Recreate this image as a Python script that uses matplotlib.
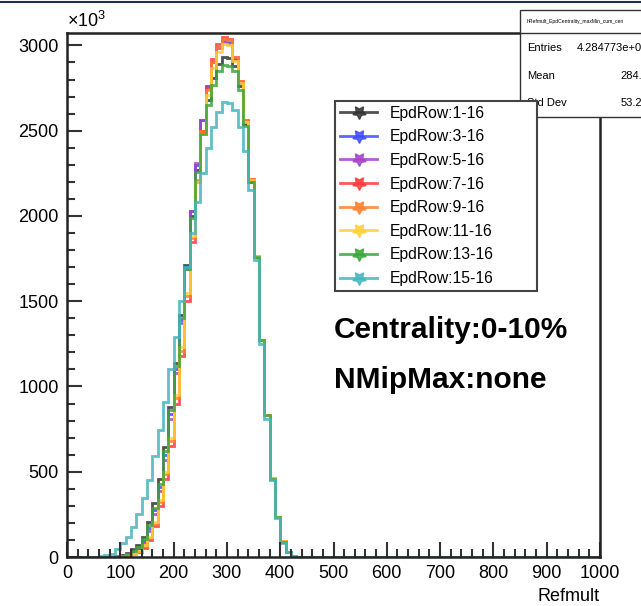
import numpy as np
import matplotlib
matplotlib.use("Agg")
import matplotlib.pyplot as plt
from matplotlib.lines import Line2D
from matplotlib.patches import Rectangle
from matplotlib.ticker import MultipleLocator

plt.rcParams['font.family'] = ['Liberation Sans', 'DejaVu Sans']
plt.rcParams['mathtext.fontset'] = 'custom'
plt.rcParams['mathtext.rm'] = 'Liberation Sans'
plt.rcParams['mathtext.default'] = 'regular'

# Refmult histograms, 10-wide bins, counts in units of 10^3
# values below are for bins with lower edge 50, 60, ..., 430 (all other bins empty)
first_bin = 50
bin_width = 10
row_1_16 = [0, 0, 1, 2, 5, 12, 25, 45, 70, 120,
            205, 315, 455, 645, 880, 1140, 1420, 1710, 2000, 2270,
            2500, 2680, 2810, 2890, 2935, 2925, 2880, 2760, 2540, 2200,
            1760, 1270, 830, 460, 235, 90, 30, 5, 0]
row_3_16 = [0, 0, 0, 1, 3, 7, 16, 32, 55, 95,
            170, 275, 410, 600, 840, 1100, 1390, 1700, 2030, 2300,
            2560, 2760, 2900, 2990, 3030, 3020, 2920, 2780, 2555, 2212,
            1765, 1275, 835, 465, 237, 92, 30, 5, 0]
row_5_16 = [0, 0, 0, 1, 2, 6, 13, 27, 48, 85,
            155, 255, 385, 570, 810, 1080, 1370, 1690, 2030, 2310,
            2560, 2760, 2900, 2985, 3020, 3010, 2915, 2780, 2555, 2212,
            1765, 1275, 835, 465, 237, 92, 30, 5, 0]
row_7_16 = [0, 0, 0, 0, 1, 3, 7, 15, 30, 55,
            100, 180, 300, 460, 650, 900, 1180, 1500, 1850, 2200,
            2500, 2750, 2920, 3010, 3050, 3040, 2930, 2790, 2560, 2215,
            1765, 1275, 835, 465, 237, 92, 30, 5, 0]
row_9_16 = [0, 0, 0, 0, 1, 4, 9, 18, 35, 62,
            110, 195, 320, 485, 680, 930, 1210, 1530, 1870, 2210,
            2500, 2740, 2900, 2990, 3040, 3030, 2930, 2790, 2560, 2215,
            1765, 1275, 835, 465, 237, 92, 30, 5, 0]
row_11_16 = [0, 0, 0, 0, 1, 4, 9, 20, 38, 68,
             118, 205, 335, 500, 700, 950, 1230, 1550, 1880, 2200,
             2480, 2710, 2870, 2960, 3010, 3000, 2910, 2780, 2550, 2210,
             1765, 1275, 835, 465, 237, 92, 30, 5, 0]
row_13_16 = [0, 0, 0, 1, 3, 8, 18, 35, 60, 105,
             185, 290, 430, 620, 860, 1120, 1400, 1690, 1990, 2260,
             2480, 2650, 2770, 2850, 2885, 2880, 2850, 2740, 2530, 2200,
             1760, 1270, 830, 460, 235, 90, 30, 5, 0]
row_15_16 = [0, 3, 10, 20, 45, 80, 120, 175, 255, 345,
             450, 590, 745, 910, 1100, 1290, 1500, 1700, 1900, 2080,
             2250, 2400, 2520, 2610, 2670, 2660, 2620, 2520, 2380, 2150,
             1740, 1250, 810, 450, 230, 85, 28, 5, 0]

labels = ["EpdRow:1-16", "EpdRow:3-16", "EpdRow:5-16", "EpdRow:7-16",
          "EpdRow:9-16", "EpdRow:11-16", "EpdRow:13-16", "EpdRow:15-16"]
series = [row_1_16, row_3_16, row_5_16, row_7_16,
          row_9_16, row_11_16, row_13_16, row_15_16]
colors = ["#333333", "#3f4cff", "#a640c8", "#ff3838",
          "#ff7f2e", "#ffd036", "#3aa63a", "#45b5bd"]

edges = np.arange(0, 1001, bin_width)

fig = plt.figure(figsize=(6.41, 6.06), dpi=100)
ax = fig.add_axes([67/641, 49/606, 533/641, 524/606])

handles = []
for vals, col, lab in zip(series, colors, labels):
    full = np.zeros(len(edges) - 1)
    i0 = first_bin // bin_width
    full[i0:i0 + len(vals)] = vals
    ax.stairs(full, edges, baseline=None, color=col, lw=2, alpha=0.85)
    handles.append(Line2D([], [], color=col, lw=2, alpha=0.85,
                          marker=(5, 1, 180), markersize=10,
                          markerfacecolor=col, markeredgecolor=col, label=lab))

ax.set_xlim(0, 1000)
ax.set_ylim(0, 3073)
ax.xaxis.set_major_locator(MultipleLocator(100))
ax.xaxis.set_minor_locator(MultipleLocator(20))
ax.yaxis.set_major_locator(MultipleLocator(500))
ax.yaxis.set_minor_locator(MultipleLocator(100))
ax.tick_params(which='both', direction='in', top=False, right=False,
               labelsize=13, width=1.5, color='#333333')
ax.tick_params(which='major', length=11, pad=6)
ax.tick_params(which='minor', length=5.5)
for s in ax.spines.values():
    s.set_linewidth(1.8)
    s.set_color('#222222')

ax.text(0, 1.004, "×10$^{3}$", transform=ax.transAxes, fontsize=13,
        ha='left', va='bottom')
ax.set_xlabel("Refmult", fontsize=13, loc='right', labelpad=4)

# stats box (cut off at the right edge, partly hidden by the legend)
fig.patches.append(Rectangle((520/641, 1 - 117/606), 140/641, 107/606,
                             transform=fig.transFigure, facecolor='white',
                             edgecolor='#333333', lw=1, zorder=5))
fig.add_artist(Line2D([520/641, 1], [1 - 33/606, 1 - 33/606],
                      transform=fig.transFigure, color='#333333', lw=1, zorder=6))
fig.text(527/641, 1 - 21/606, "hRefmult_EpdCentrality_maxMin_cum_cen",
         fontsize=3.6, ha='left', va='center', zorder=6)
stats = [("Entries", "4.284773e+07", 48), ("Mean", "284.6", 76),
         ("Std Dev", "53.24", 103)]
for name, val, yy in stats:
    fig.text(527/641, 1 - yy/606, name, fontsize=8, ha='left', va='center', zorder=6)
    fig.text(648/641, 1 - yy/606, val, fontsize=8, ha='right', va='center', zorder=6)

leg = fig.legend(handles=handles, loc='upper left', mode='expand',
                 bbox_to_anchor=(335/641, 1 - 296/606, 202/641, 195/606),
                 fontsize=11.3, frameon=True, fancybox=False, handlelength=2.4,
                 handletextpad=0.8, labelspacing=0.55, borderpad=0.3,
                 borderaxespad=0, framealpha=1)
leg.get_frame().set_edgecolor('#444444')
leg.get_frame().set_linewidth(1.5)
leg.set_zorder(10)

fig.text(334/641, 1 - 330/606, "Centrality:0-10%", fontsize=21.5,
         fontweight='bold', ha='left', va='center')
fig.text(334/641, 1 - 380/606, "NMipMax:none", fontsize=21.5,
         fontweight='bold', ha='left', va='center')

# window border line at the very top
fig.add_artist(Line2D([0, 1], [1 - 1.5/606, 1 - 1.5/606],
                      transform=fig.transFigure, color='#1c2c5c', lw=1.5))

fig.savefig("out.png", dpi=100)
